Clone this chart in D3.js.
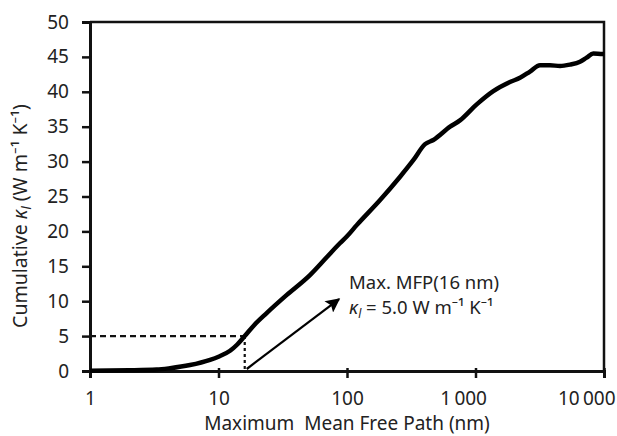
<!DOCTYPE html>
<html>
<head>
<meta charset="utf-8">
<script src="https://cdn.jsdelivr.net/npm/d3@7"></script>
<style>
  body { margin: 0; background: #fff; }
  text { font-family: "Noto Sans", sans-serif; fill: #222; }
</style>
</head>
<body>
<script>
// cumulative thermal conductivity vs max mean free path
var mfp = [1, 2, 3.3, 4.2, 6.0, 8.6, 10, 12.3, 14, 16, 19, 23.7, 34, 51.5, 69.5, 88, 100, 119, 181, 258, 328, 405, 470, 634, 757, 1022, 1376, 1854, 2220, 2655, 3177, 3800, 4548, 5436, 6505, 7325, 8260, 10000];
var kappa = [0.05, 0.1, 0.2, 0.4, 0.85, 1.6, 2.05, 2.9, 3.8, 5.0, 6.6, 8.3, 10.9, 13.75, 16.3, 18.3, 19.3, 20.9, 24.5, 27.8, 30.2, 32.5, 33.1, 35.0, 35.9, 38.2, 40.1, 41.4, 42.0, 42.9, 43.8, 43.8, 43.7, 43.9, 44.3, 44.9, 45.5, 45.4];

var xTicks = [1, 10, 100, 1000, 10000];
var xTickLabels = ["1", "10", "100", "1\u2009000", "10\u2009000"];
var yTicks = [0, 5, 10, 15, 20, 25, 30, 35, 40, 45, 50];

var markMfp = 16;
var markKappa = 5.0;
var arrowTip = [86.7, 10.3];

var width = 617, height = 436;
var margin = { top: 22, right: 13, bottom: 65, left: 90 };

var svg = d3.select("body").append("svg")
    .attr("width", width)
    .attr("height", height);

var x = d3.scaleLog().domain([1, 10000]).range([margin.left, width - margin.right]);
var y = d3.scaleLinear().domain([0, 50]).range([height - margin.bottom, margin.top]);

// frame top + right (thinner)
svg.append("path")
    .attr("d", "M" + x(1) + "," + y(50) + "H" + x(10000) + "V" + y(0))
    .attr("fill", "none")
    .attr("stroke", "#111")
    .attr("stroke-width", 2.5);

// axes
var xAxis = svg.append("g")
    .attr("transform", "translate(0," + y(0) + ")")
    .call(d3.axisBottom(x).tickValues(xTicks).tickSize(7).tickFormat(function(d, i) { return xTickLabels[i]; }));
xAxis.select(".domain").attr("stroke", "#111").attr("stroke-width", 3);
xAxis.selectAll(".tick line").attr("stroke", "#111").attr("stroke-width", 2.5).attr("y1", -3);
xAxis.selectAll(".tick text")
    .attr("font-size", 19)
    .attr("y", 34)
    .attr("dy", null)
    .attr("fill", "#222")
    .each(function(d, i) {
        // the long labels sit a bit to the left of their tick
        if (xTickLabels[i].length > 3) d3.select(this).attr("text-anchor", "end").attr("x", 11);
    });

var yAxis = svg.append("g")
    .attr("transform", "translate(" + x(1) + ",0)")
    .call(d3.axisLeft(y).tickValues(yTicks).tickSize(8));
yAxis.select(".domain").attr("stroke", "#111").attr("stroke-width", 3);
yAxis.selectAll(".tick line").attr("stroke", "#111").attr("stroke-width", 2.5).attr("x1", 2);
yAxis.selectAll(".tick text").attr("font-size", 19).attr("x", -21).attr("fill", "#222");

// guide lines to the 16 nm point
svg.append("line")
    .attr("x1", x(1)).attr("x2", x(markMfp))
    .attr("y1", y(markKappa)).attr("y2", y(markKappa))
    .attr("stroke", "#111").attr("stroke-width", 2.2)
    .attr("stroke-dasharray", "6,4");
svg.append("line")
    .attr("x1", x(markMfp)).attr("x2", x(markMfp))
    .attr("y1", y(markKappa)).attr("y2", y(0))
    .attr("stroke", "#111").attr("stroke-width", 2.2)
    .attr("stroke-dasharray", "3,3");

// curve
var pts = mfp.map(function(d, i) { return [d, kappa[i]]; });
var line = d3.line()
    .x(function(d) { return x(d[0]); })
    .y(function(d) { return y(d[1]); })
    .curve(d3.curveMonotoneX);
svg.append("path")
    .datum(pts)
    .attr("d", line)
    .attr("fill", "none")
    .attr("stroke", "#000")
    .attr("stroke-width", 4.5)
    .attr("stroke-linejoin", "round");

// arrow
svg.append("defs").append("marker")
    .attr("id", "arrow")
    .attr("viewBox", "0 0 10 10")
    .attr("refX", 9).attr("refY", 5)
    .attr("markerWidth", 7.5).attr("markerHeight", 6.5)
    .attr("markerUnits", "strokeWidth")
    .attr("orient", "auto")
  .append("path")
    .attr("d", "M0,0L10,5L0,10L2,5z")
    .attr("fill", "#000");
svg.append("line")
    .attr("x1", x(markMfp) + 2).attr("y1", y(0) - 2)
    .attr("x2", x(arrowTip[0])).attr("y2", y(arrowTip[1]))
    .attr("stroke", "#000").attr("stroke-width", 2.2)
    .attr("marker-end", "url(#arrow)");

// annotation text
var ann = svg.append("g").attr("font-size", 18.5);
ann.append("text").attr("x", 349).attr("y", 289).text("Max. MFP(16 nm)");
var t2 = ann.append("text").attr("x", 349).attr("y", 314);
t2.append("tspan").attr("font-style", "italic").text("\u03BA");
t2.append("tspan").attr("font-style", "italic").attr("font-size", 12).attr("dy", 4).text("l");
t2.append("tspan").attr("dy", -4).text(" = 5.0 W m\u207B\u00B9 K\u207B\u00B9");

// axis titles
svg.append("text")
    .attr("x", (x(1) + x(10000)) / 2)
    .attr("y", 430)
    .attr("text-anchor", "middle")
    .attr("font-size", 19)
    .style("white-space", "pre")
    .text("Maximum  Mean Free Path (nm)");

var yt = svg.append("text")
    .attr("transform", "translate(27,216) rotate(-90)")
    .attr("text-anchor", "middle")
    .attr("font-size", 19.5);
yt.append("tspan").text("Cumulative ");
yt.append("tspan").attr("font-style", "italic").text("\u03BA");
yt.append("tspan").attr("font-style", "italic").attr("font-size", 12.5).attr("dy", 4).text("l");
yt.append("tspan").attr("dy", -4).text(" (W m\u207B\u00B9 K\u207B\u00B9)");
</script>
</body>
</html>
